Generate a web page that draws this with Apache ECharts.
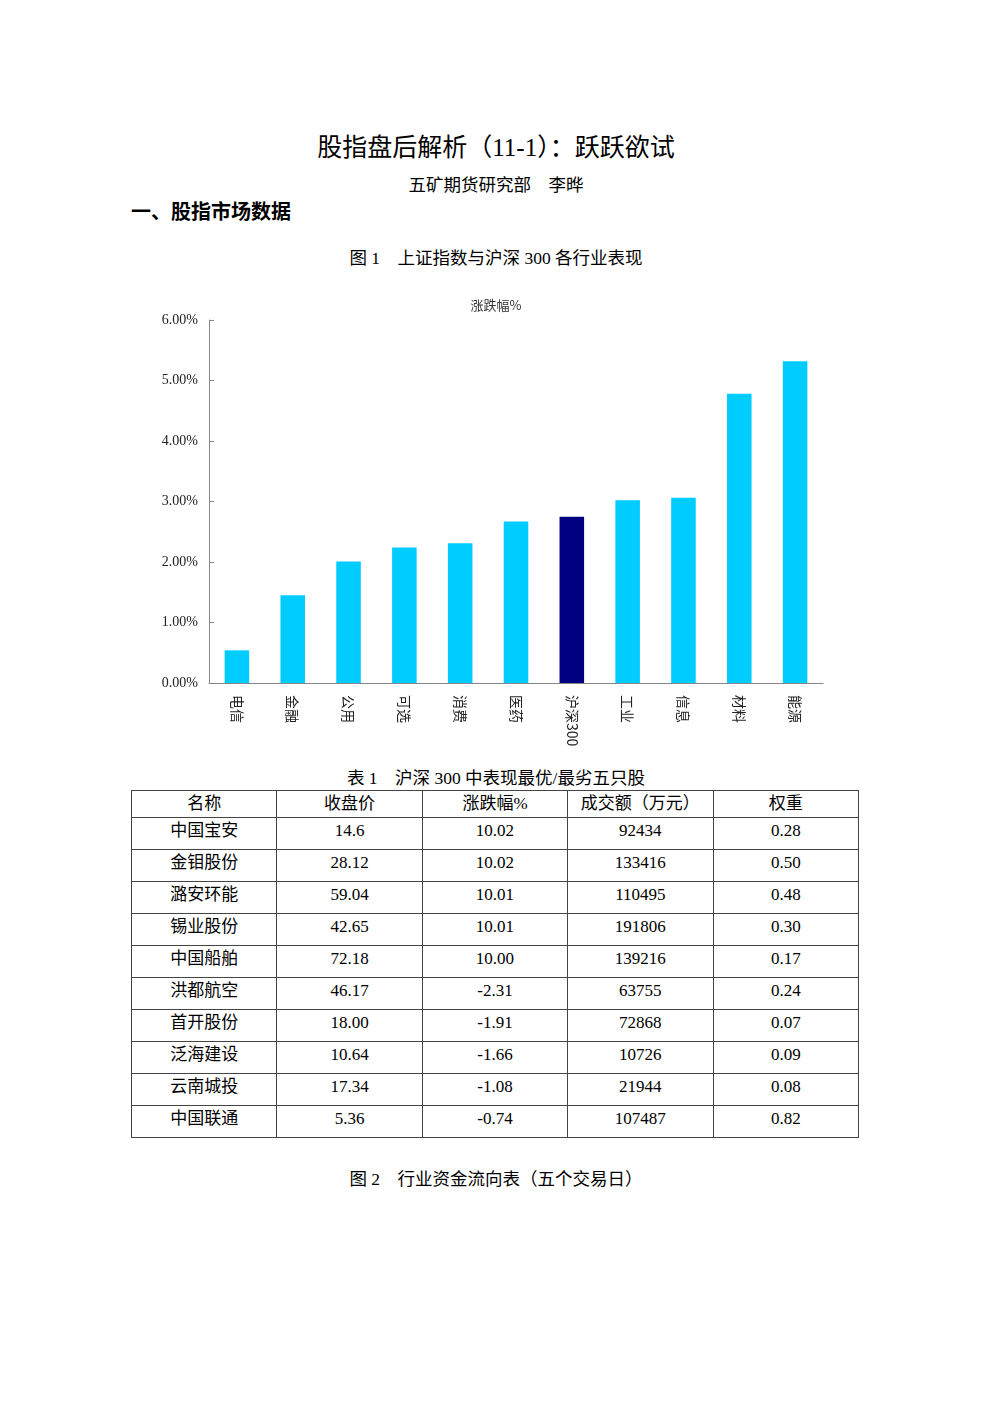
<!DOCTYPE html>
<html>
<head>
<meta charset="utf-8">
<script src="https://cdn.jsdelivr.net/npm/echarts@6/dist/echarts.min.js"></script>
<style>
  html, body { margin:0; padding:0; background:#fff; }
  body { width:992px; height:1403px; position:relative; overflow:hidden;
         font-family:"Liberation Serif","Noto Sans CJK SC",serif; color:#000; }
  .abs { position:absolute; white-space:nowrap; }
  .center { left:0; width:992px; text-align:center; }
  #chart { position:absolute; left:0; top:280px; width:992px; height:480px; }
  table { position:absolute; left:131px; top:790px; width:728px; border-collapse:collapse; table-layout:fixed; }
  td, th { border:1px solid #444; text-align:center; font-weight:normal; font-size:17px; padding:0; }
  th { height:26px; line-height:24px; }
  td { height:30px; line-height:24px; vertical-align:top; padding-top:1px; }
</style>
</head>
<body>
<div class="abs center" style="top:127px;font-size:25px;">股指盘后解析（11-1）：跃跃欲试</div>
<div class="abs center" style="top:171px;font-size:17.5px;">五矿期货研究部　李晔</div>
<div class="abs" style="left:131px;top:196px;font-size:20px;font-weight:bold;">一、股指市场数据</div>
<div class="abs center" style="top:244px;font-size:17.5px;">图 1　上证指数与沪深 300 各行业表现</div>
<div id="chart"></div>
<div class="abs center" style="top:764px;font-size:17.5px;">表 1　沪深 300 中表现最优/最劣五只股</div>
<table id="tbl"></table>
<div class="abs center" style="top:1165px;font-size:17.5px;">图 2　行业资金流向表（五个交易日）</div>

<script>
// ---- chart data ----
const chartTitle = '涨跌幅%';
const categories = ['电信','金融','公用','可选','消费','医药','沪深300','工业','信息','材料','能源'];
const changePct = [0.54, 1.45, 2.01, 2.24, 2.31, 2.67, 2.75, 3.02, 3.06, 4.78, 5.32];
const highlightCategory = '沪深300';
const yMin = 0, yMax = 6, yInterval = 1;

// ---- table data ----
const tableHeaders = ['名称','收盘价','涨跌幅%','成交额（万元）','权重'];
const stockNames = ['中国宝安','金钼股份','潞安环能','锡业股份','中国船舶','洪都航空','首开股份','泛海建设','云南城投','中国联通'];
const closePrices = ['14.6','28.12','59.04','42.65','72.18','46.17','18.00','10.64','17.34','5.36'];
const stockChanges = ['10.02','10.02','10.01','10.01','10.00','-2.31','-1.91','-1.66','-1.08','-0.74'];
const turnovers = ['92434','133416','110495','191806','139216','63755','72868','10726','21944','107487'];
const weights = ['0.28','0.50','0.48','0.30','0.17','0.24','0.07','0.09','0.08','0.82'];

// build table
(function(){
  const t = document.getElementById('tbl');
  let h = '<tr>' + tableHeaders.map(x => '<th>' + x + '</th>').join('') + '</tr>';
  for (let i = 0; i < stockNames.length; i++) {
    h += '<tr><td>' + stockNames[i] + '</td><td>' + closePrices[i] + '</td><td>' + stockChanges[i] +
         '</td><td>' + turnovers[i] + '</td><td>' + weights[i] + '</td></tr>';
  }
  t.innerHTML = h;
})();

const chart = echarts.init(document.getElementById('chart'), null, {renderer:'canvas'});
const axisColor = '#868686';
chart.setOption({
  animation: false,
  title: {
    text: chartTitle, left: 'center', top: 14,
    textStyle: { fontSize: 13, fontWeight: 'normal', color: '#333', fontFamily: '"Noto Sans CJK SC", sans-serif' }
  },
  grid: { left: 209, top: 40, width: 614, height: 363 },
  xAxis: {
    type: 'category', data: categories,
    axisLine: { lineStyle: { color: axisColor, width: 1 } },
    axisTick: { inside: true, length: 5, lineStyle: { color: axisColor } },
    axisLabel: { rotate: -90, margin: 12, color: '#222', fontSize: 14,
                 fontFamily: '"Noto Sans CJK SC", sans-serif' }
  },
  yAxis: {
    type: 'value', min: yMin, max: yMax, interval: yInterval,
    splitLine: { show: false },
    axisLine: { show: true, lineStyle: { color: axisColor, width: 1 } },
    axisTick: { show: true, inside: true, length: 5, lineStyle: { color: axisColor } },
    axisLabel: { color: '#222', fontSize: 14, margin: 11, fontFamily: '"Liberation Serif", serif',
                 formatter: v => v.toFixed(2) + '%' }
  },
  series: [{
    type: 'bar',
    barWidth: '44%',
    data: changePct.map((v, i) => ({
      value: v,
      itemStyle: { color: categories[i] === highlightCategory ? '#000080' : '#00CCFF' }
    }))
  }]
});
</script>
</body>
</html>
